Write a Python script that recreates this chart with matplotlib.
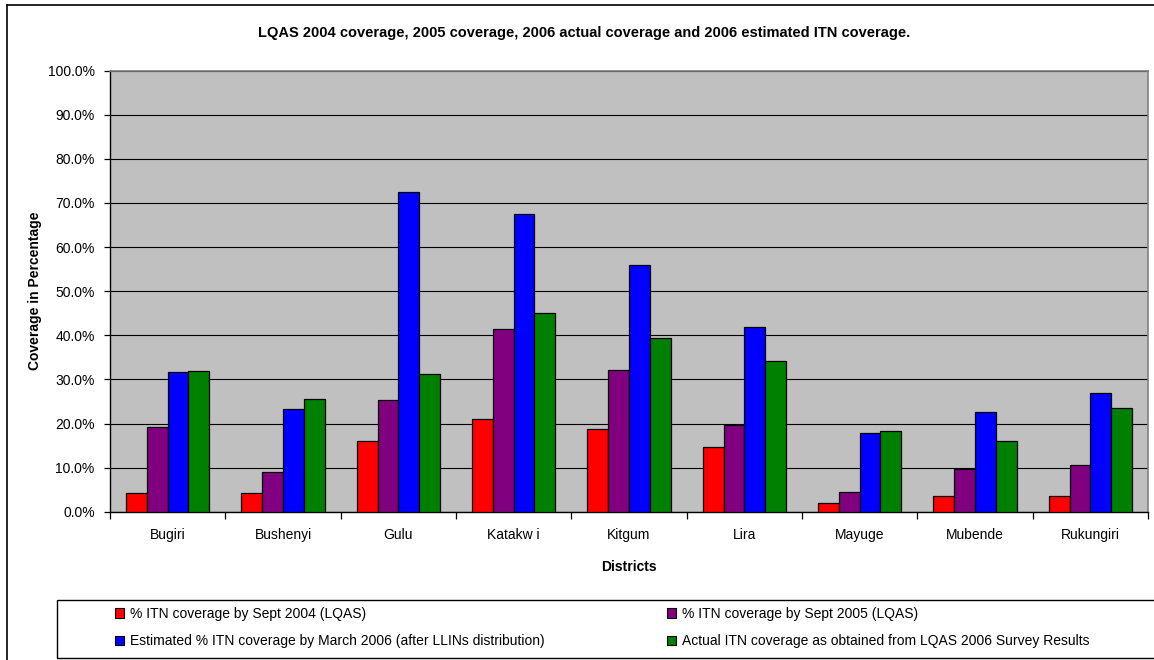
import matplotlib
matplotlib.use("Agg")
import matplotlib.pyplot as plt
from matplotlib.patches import Patch, Rectangle
from matplotlib.lines import Line2D
import numpy as np

plt.rcParams['font.family'] = ['Liberation Sans', 'DejaVu Sans']

districts = ["Bugiri", "Bushenyi", "Gulu", "Katakw i", "Kitgum", "Lira", "Mayuge", "Mubende", "Rukungiri"]
itn_2004 = [4.2, 4.2, 16.0, 21.0, 18.7, 14.7, 1.9, 3.6, 3.6]
itn_2005 = [19.3, 9.1, 25.3, 41.4, 32.2, 19.7, 4.5, 9.6, 10.6]
est_2006 = [31.6, 23.3, 72.4, 67.6, 56.0, 41.9, 17.8, 22.7, 27.0]
act_2006 = [31.9, 25.6, 31.2, 45.1, 39.5, 34.2, 18.4, 16.0, 23.6]

series_labels = [
    "% ITN coverage by Sept 2004 (LQAS)",
    "% ITN coverage by Sept 2005 (LQAS)",
    "Estimated % ITN coverage by March 2006 (after LLINs distribution)",
    "Actual ITN coverage as obtained from LQAS 2006 Survey Results",
]
series_colors = ["#FF0000", "#800080", "#0000FF", "#008000"]
title = "LQAS 2004 coverage, 2005 coverage, 2006 actual coverage and 2006 estimated ITN coverage."
yticks = [0, 10, 20, 30, 40, 50, 60, 70, 80, 90, 100]

W, H = 1154, 660
fig = plt.figure(figsize=(W / 100, H / 100), dpi=100)
fig.patch.set_facecolor("white")

ax = fig.add_axes([110 / W, (H - 511.7) / H, 1038 / W, 441 / H])
ax.set_facecolor("#C0C0C0")

x = np.arange(len(districts))
bw = 0.18
all_series = [itn_2004, itn_2005, est_2006, act_2006]
handles = []
for i, (vals, col, lab) in enumerate(zip(all_series, series_colors, series_labels)):
    ax.bar(x + (i - 1.5) * bw, vals, width=bw, color=col, edgecolor="black",
           linewidth=0.9, label=lab, zorder=3)
    handles.append(Patch(facecolor=col, edgecolor="black", linewidth=0.8, label=lab))

ax.set_xlim(-0.5, len(districts) - 0.5)
ax.set_ylim(0, 100)
ax.set_yticks(yticks)
ax.set_yticklabels([f"{v:.1f}%" for v in yticks], fontsize=10)
ax.yaxis.grid(True, color="black", linewidth=0.8, zorder=1)
ax.set_axisbelow(True)

ax.set_xticks(x)
ax.set_xticklabels(districts, fontsize=10)
ax.set_xticks(np.arange(-0.5, len(districts), 1.0), minor=True)
ax.tick_params(axis="x", which="major", length=0, pad=12)
ax.tick_params(axis="x", which="minor", length=5, width=0.9, direction="out")
ax.tick_params(axis="y", length=4, width=0.9, direction="out", pad=7)

for s in ["left", "bottom"]:
    ax.spines[s].set_color("black")
    ax.spines[s].set_linewidth(1.0)
for s in ["top", "right"]:
    ax.spines[s].set_color("#808080")
    ax.spines[s].set_linewidth(1.2)

ax.set_xlabel("Districts", fontsize=10, fontweight="bold")
ax.xaxis.set_label_coords(0.5, (511.7 - 566.7) / 441)
ax.xaxis.label.set_va("center")
ax.set_ylabel("Coverage in Percentage", fontsize=10, fontweight="bold")
ax.yaxis.set_label_coords((35 - 110) / 1038, 0.5)
ax.yaxis.label.set_va("center")

fig.text(584 / W, (H - 33) / H, title, ha="center", va="center",
         fontsize=10.5, fontweight="bold")

# outer chart border (left and top visible)
fig.add_artist(Line2D([6.7 / W, 6.7 / W], [0, 1 - 5 / H], transform=fig.transFigure,
                      color="black", linewidth=1.2))
fig.add_artist(Line2D([6.7 / W, 1.0], [1 - 5 / H, 1 - 5 / H], transform=fig.transFigure,
                      color="black", linewidth=1.2))

# legend box
fig.add_artist(Rectangle((56.7 / W, 2 / H), 1.02 - 56.7 / W, (658 - 599.5) / H,
                         transform=fig.transFigure, facecolor="none",
                         edgecolor="black", linewidth=1.0))

leg_kw = dict(loc="upper left", frameon=False, fontsize=10, borderpad=0,
              handlelength=0.65, handleheight=0.65, handletextpad=0.4,
              labelspacing=0.97, borderaxespad=0)
leg1 = fig.legend(handles=[handles[0], handles[2]], bbox_to_anchor=(115 / W, (H - 607) / H), **leg_kw)
leg2 = fig.legend(handles=[handles[1], handles[3]], bbox_to_anchor=(667 / W, (H - 607) / H), **leg_kw)

fig.savefig("out.png", dpi=100, facecolor="white")
